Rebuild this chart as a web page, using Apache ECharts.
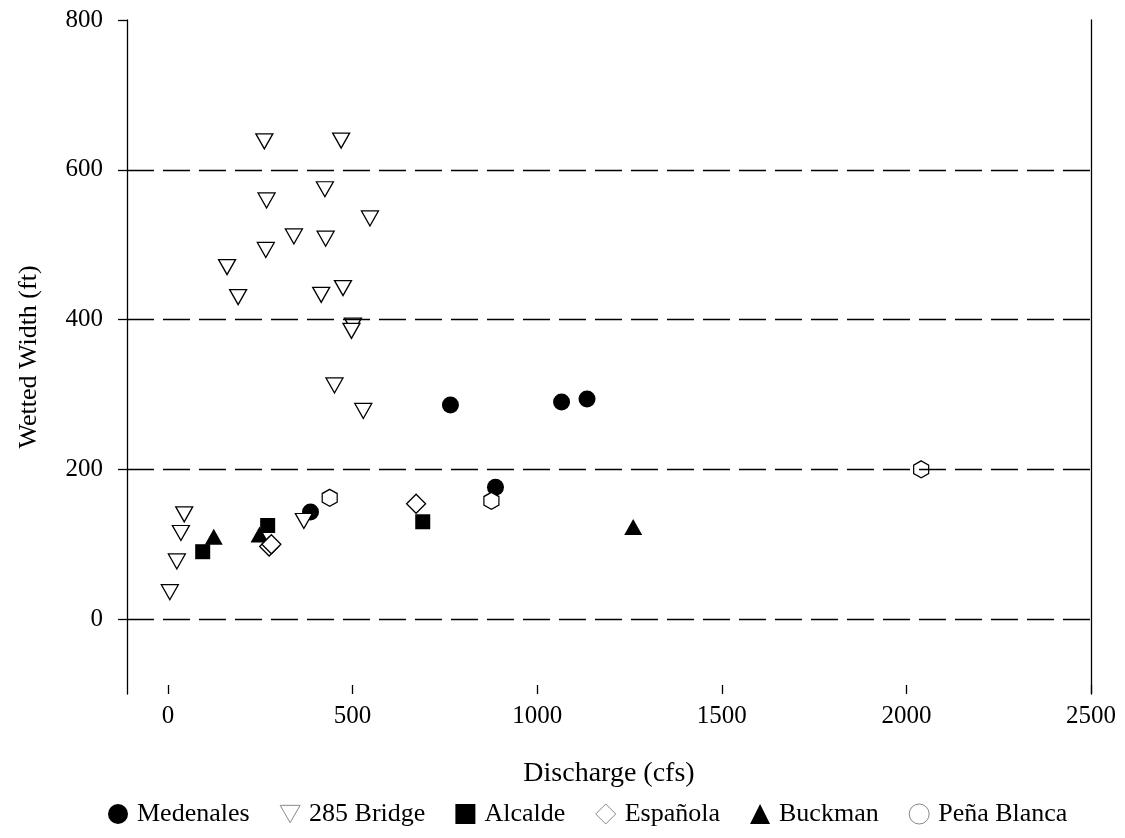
<!DOCTYPE html>
<html>
<head>
<meta charset="utf-8">
<script src="https://cdn.jsdelivr.net/npm/echarts@6/dist/echarts.min.js"></script>
<style>
  html, body { margin: 0; padding: 0; background: #fff; }
  #chart { width: 1125px; height: 838px; }
</style>
</head>
<body>
<div id="chart"></div>
<script>
// [discharge cfs, wetted width ft]
const medenales = [[386, 143], [765, 286], [887, 176], [1066, 290], [1135, 294]];
const bridge285 = [
  [261, 638], [469, 639], [425, 574], [267, 559], [547, 535], [341, 511],
  [427, 508], [265, 493], [160, 470], [474, 442], [415, 433], [190, 430],
  [501, 392], [497, 385], [451, 312], [529, 278],
  [44, 140], [35, 115], [24, 77], [5, 36], [368, 131]
];
const alcalde = [[94, 90], [270, 125], [690, 130]];
const espanola = [[274, 97], [280, 100], [672, 154]];
const buckman = [[124, 110], [248, 113], [1260, 123]];
const penaBlanca = [[438, 162], [876, 158], [2040, 200]];

const xTicks = [0, 500, 1000, 1500, 2000, 2500];
const yTicks = [0, 200, 400, 600, 800];
const gridLines = [0, 200, 400, 600];

const FONT = '"Liberation Serif", "Times New Roman", serif';
const triDown = 'path://M0,0L10,0L5,8.66Z';
const hexagon = 'path://M0,-1L0.866,-0.5L0.866,0.5L0,1L-0.866,0.5L-0.866,-0.5Z';

const openStyle = { color: '#fff', borderColor: '#000', borderWidth: 1.3, opacity: 1 };
const filled = { color: '#000', opacity: 1 };
const legendOpen = { color: '#fff', borderColor: '#888', borderWidth: 1, opacity: 1 };

const chart = echarts.init(document.getElementById('chart'));
chart.setOption({
  animation: false,
  textStyle: { fontFamily: FONT, color: '#000' },
  grid: { left: 127, right: 34, top: 20, bottom: 144 },
  legend: {
    bottom: 6,
    left: 103,
    itemWidth: 20,
    itemHeight: 20,
    itemGap: 30,
    textStyle: { fontFamily: FONT, fontSize: 26, color: '#000', padding: [0, 0, 0, 4] },
    data: [
      { name: 'Medenales', icon: 'circle', itemStyle: filled },
      { name: '285 Bridge', icon: triDown, itemStyle: legendOpen },
      { name: 'Alcalde', icon: 'rect', itemStyle: filled },
      { name: 'Española', icon: 'diamond', itemStyle: legendOpen },
      { name: 'Buckman', icon: 'triangle', itemStyle: filled },
      { name: 'Peña Blanca', icon: 'circle', itemStyle: legendOpen }
    ]
  },
  xAxis: {
    type: 'value',
    min: -111,
    max: 2500,
    name: 'Discharge (cfs)',
    nameLocation: 'middle',
    nameGap: 66,
    nameTextStyle: { fontFamily: FONT, fontSize: 28, color: '#000' },
    axisLine: { show: false, onZero: false },
    axisTick: { show: true, inside: true, length: 9, customValues: xTicks, lineStyle: { color: '#000', width: 1.3 } },
    axisLabel: { customValues: xTicks, margin: 10, fontFamily: FONT, fontSize: 25, color: '#000', formatter: v => String(v) },
    splitLine: { show: false }
  },
  yAxis: [{
    type: 'value',
    min: -100,
    max: 800,
    name: 'Wetted Width (ft)',
    nameLocation: 'middle',
    nameGap: 85,
    nameTextStyle: { fontFamily: FONT, fontSize: 26, color: '#000' },
    axisLine: { show: true, onZero: false, lineStyle: { color: '#000', width: 1.3 } },
    axisTick: { show: true, length: 9, customValues: yTicks, lineStyle: { color: '#000', width: 1.3 } },
    axisLabel: { customValues: yTicks, margin: 24, fontFamily: FONT, fontSize: 25, color: '#000', formatter: v => String(v) },
    splitLine: { show: false }
  }, {
    type: 'value',
    position: 'right',
    min: -100,
    max: 800,
    axisLine: { show: true, onZero: false, lineStyle: { color: '#000', width: 1.3 } },
    axisTick: { show: false },
    axisLabel: { show: false },
    splitLine: { show: false }
  }],
  series: [
    {
      name: 'Medenales', type: 'scatter', z: 2,
      symbol: 'circle', symbolSize: 17,
      itemStyle: filled, data: medenales,
      markLine: {
        silent: true,
        symbol: ['none', 'none'],
        label: { show: false },
        lineStyle: { color: '#000', width: 1.3, type: [27, 9] },
        data: gridLines.map(v => ({ yAxis: v }))
      }
    },
    {
      name: '285 Bridge', type: 'scatter', z: 3,
      symbol: triDown, symbolSize: [17, 15],
      itemStyle: openStyle, data: bridge285
    },
    {
      name: 'Alcalde', type: 'scatter', z: 3,
      symbol: 'rect', symbolSize: 15,
      itemStyle: filled, data: alcalde
    },
    {
      name: 'Española', type: 'scatter', z: 4,
      symbol: 'diamond', symbolSize: 19,
      itemStyle: openStyle, data: espanola
    },
    {
      name: 'Buckman', type: 'scatter', z: 2,
      symbol: 'triangle', symbolSize: [18, 16],
      itemStyle: filled, data: buckman
    },
    {
      name: 'Peña Blanca', type: 'scatter', z: 4,
      symbol: hexagon, symbolSize: [15, 17],
      itemStyle: openStyle, data: penaBlanca
    }
  ]
});
</script>
</body>
</html>
